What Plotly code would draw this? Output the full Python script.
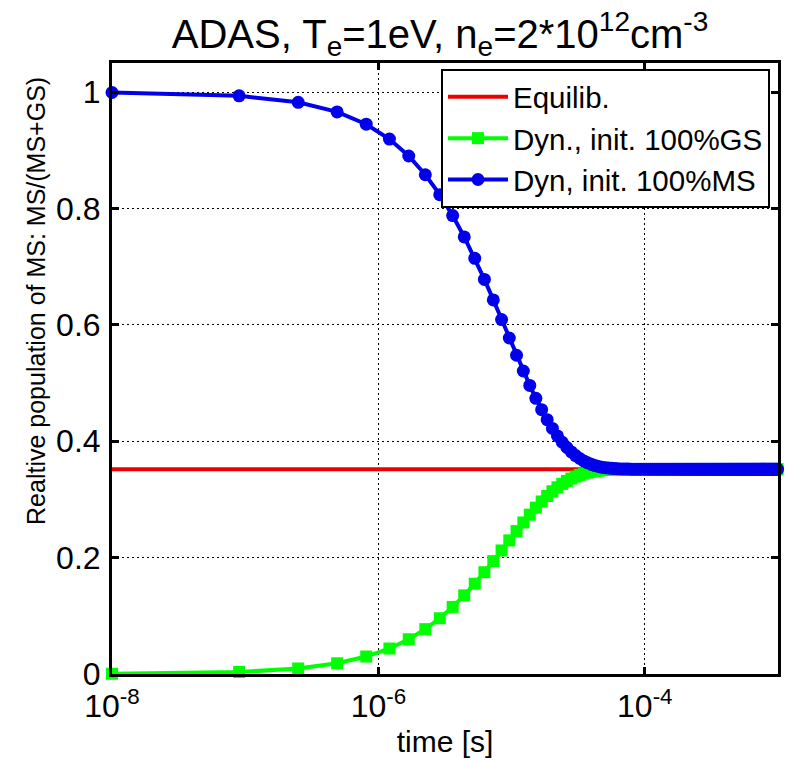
import plotly.graph_objects as go

# time in units of 1e-8 s
t_units = [1, 9, 25, 49, 81, 121, 169, 225, 289, 361, 441, 529, 625, 729, 841, 961,
           1089, 1225, 1369, 1521, 1681, 1849, 2025, 2209, 2401, 2601, 2809, 3025, 3249,
           3481, 3721, 3969, 4225, 4489, 4761, 5041, 5329, 5625, 5929, 6241, 6561,
           6889, 7225, 7569, 7921, 8281, 8649, 9025, 9409, 9801, 10201, 10609, 11025,
           11449, 11881, 12321, 12769, 13225, 13689, 14161, 14641, 15129, 15625, 16129,
           16641, 17161, 17689, 18225, 18769, 19321, 19881, 20449, 21025, 21609, 22201,
           22801, 23409, 24025, 24649, 25281, 25921, 26569, 27225, 27889, 28561, 29241,
           29929, 30625, 31329, 32041, 32761, 33489, 34225, 34969, 35721, 36481, 37249,
           38025, 38809, 39601, 40401, 41209, 42025, 42849, 43681, 44521, 45369, 46225,
           47089, 47961, 48841, 49729, 50625, 51529, 52441, 53361, 54289, 55225, 56169,
           57121, 58081, 59049, 60025, 61009, 62001, 63001, 64009, 65025, 66049, 67081,
           68121, 69169, 70225, 71289, 72361, 73441, 74529, 75625, 76729, 77841, 78961,
           80089, 81225, 82369, 83521, 84681, 85849, 87025, 88209, 89401, 90601, 91809,
           93025, 94249, 95481, 96721, 97969, 99225]

ms_init_ms = [0.9993, 0.9936, 0.9824, 0.9660, 0.9448, 0.9193, 0.8902, 0.8580, 0.8237, 0.7878,
              0.7511, 0.7144, 0.6781, 0.6429, 0.6091, 0.5774, 0.5478, 0.5207, 0.4960, 0.4738,
              0.4542, 0.4370, 0.4220, 0.4092, 0.3983, 0.3892, 0.3816, 0.3753, 0.3703, 0.3661,
              0.3629, 0.3603, 0.3582, 0.3567, 0.3554, 0.3545, 0.3539, 0.3534, 0.3530, 0.3527,
              0.3525, 0.3523, 0.3522, 0.3521, 0.352, 0.352, 0.352, 0.352, 0.352, 0.352,
              0.352, 0.352, 0.352, 0.352, 0.352, 0.352, 0.352, 0.352, 0.352, 0.352,
              0.352, 0.352, 0.352, 0.352, 0.352, 0.352, 0.352, 0.352, 0.352, 0.352,
              0.352, 0.352, 0.352, 0.352, 0.352, 0.352, 0.352, 0.352, 0.352, 0.352,
              0.352, 0.352, 0.352, 0.352, 0.352, 0.352, 0.352, 0.352, 0.352, 0.352,
              0.352, 0.352, 0.352, 0.352, 0.352, 0.352, 0.352, 0.352, 0.352, 0.352,
              0.352, 0.352, 0.352, 0.352, 0.352, 0.352, 0.352, 0.352, 0.352, 0.352,
              0.352, 0.352, 0.352, 0.352, 0.352, 0.352, 0.352, 0.352, 0.352, 0.352,
              0.352, 0.352, 0.352, 0.352, 0.352, 0.352, 0.352, 0.352, 0.352, 0.352,
              0.352, 0.352, 0.352, 0.352, 0.352, 0.352, 0.352, 0.352, 0.352, 0.352,
              0.352, 0.352, 0.352, 0.352, 0.352, 0.352, 0.352, 0.352, 0.352, 0.352,
              0.352, 0.352, 0.352, 0.352, 0.352, 0.352, 0.352, 0.352]

ms_init_gs = [0.0004, 0.0034, 0.0095, 0.0184, 0.0300, 0.0438, 0.0597, 0.0771, 0.0958, 0.1153,
              0.1352, 0.1552, 0.1749, 0.1940, 0.2123, 0.2296, 0.2456, 0.2604, 0.2738, 0.2858,
              0.2965, 0.3059, 0.3140, 0.3209, 0.3268, 0.3318, 0.3359, 0.3393, 0.3421, 0.3443,
              0.3461, 0.3475, 0.3486, 0.3495, 0.3501, 0.3506, 0.3510, 0.3513, 0.3515, 0.3516,
              0.3518, 0.3519, 0.3519, 0.352, 0.352, 0.352, 0.352, 0.352, 0.352, 0.352,
              0.352, 0.352, 0.352, 0.352, 0.352, 0.352, 0.352, 0.352, 0.352, 0.352,
              0.352, 0.352, 0.352, 0.352, 0.352, 0.352, 0.352, 0.352, 0.352, 0.352,
              0.352, 0.352, 0.352, 0.352, 0.352, 0.352, 0.352, 0.352, 0.352, 0.352,
              0.352, 0.352, 0.352, 0.352, 0.352, 0.352, 0.352, 0.352, 0.352, 0.352,
              0.352, 0.352, 0.352, 0.352, 0.352, 0.352, 0.352, 0.352, 0.352, 0.352,
              0.352, 0.352, 0.352, 0.352, 0.352, 0.352, 0.352, 0.352, 0.352, 0.352,
              0.352, 0.352, 0.352, 0.352, 0.352, 0.352, 0.352, 0.352, 0.352, 0.352,
              0.352, 0.352, 0.352, 0.352, 0.352, 0.352, 0.352, 0.352, 0.352, 0.352,
              0.352, 0.352, 0.352, 0.352, 0.352, 0.352, 0.352, 0.352, 0.352, 0.352,
              0.352, 0.352, 0.352, 0.352, 0.352, 0.352, 0.352, 0.352, 0.352, 0.352,
              0.352, 0.352, 0.352, 0.352, 0.352, 0.352, 0.352, 0.352]

equilib_t = [1e-8, 1e-3]
equilib_val = [0.352, 0.352]

x_tickvals = [1e-8, 1e-6, 1e-4]
x_ticktext = ["10<sup>-8</sup>", "10<sup>-6</sup>", "10<sup>-4</sup>"]
y_tickvals = [0, 0.2, 0.4, 0.6, 0.8, 1.0]
y_ticktext = ["0", "0.2", "0.4", "0.6", "0.8", "1"]

t_sec = [u * 1e-8 for u in t_units]

FONT = "Liberation Sans, Arial, sans-serif"

fig = go.Figure()
fig.add_trace(go.Scatter(x=equilib_t, y=equilib_val, mode="lines", name="Equilib.",
                         line=dict(color="rgb(235,0,0)", width=4), cliponaxis=False))
fig.add_trace(go.Scatter(x=t_sec, y=ms_init_gs, mode="lines+markers",
                         name="Dyn., init. 100%GS",
                         line=dict(color="rgb(0,255,0)", width=4),
                         marker=dict(symbol="square", size=12, color="rgb(0,255,0)"),
                         cliponaxis=False))
fig.add_trace(go.Scatter(x=t_sec, y=ms_init_ms, mode="lines+markers",
                         name="Dyn, init. 100%MS",
                         line=dict(color="rgb(0,0,235)", width=4),
                         marker=dict(symbol="circle", size=13, color="rgb(0,0,235)"),
                         cliponaxis=False))

axis_common = dict(showgrid=True, gridcolor="black", gridwidth=1.2, griddash="2px,3px",
                   ticks="inside", ticklen=7, tickwidth=2.5, tickcolor="black",
                   showline=True, linecolor="black", linewidth=3, mirror="allticks",
                   zeroline=False, tickfont=dict(size=32, color="black", family=FONT))

fig.update_xaxes(type="log", range=[-8, -3], tickvals=x_tickvals, ticktext=x_ticktext,
                 ticklabelstandoff=2,
                 title=dict(text="time [s]", font=dict(size=30, color="black", family=FONT),
                            standoff=8),
                 **axis_common)
fig.update_yaxes(range=[0, 1.05], tickvals=y_tickvals, ticktext=y_ticktext,
                 ticklabelstandoff=2,
                 **axis_common)

fig.update_layout(
    width=789, height=761,
    margin=dict(l=112, r=8, t=63, b=86),
    paper_bgcolor="white", plot_bgcolor="white",
    font=dict(family=FONT, color="black"),
    title=dict(text="ADAS, T<sub>e</sub>=1eV, n<sub>e</sub>=2*10<sup>12</sup>cm<sup>-3</sup>",
               font=dict(size=40, color="black", family=FONT),
               x=440 / 789, xanchor="center", xref="container",
               y=1 - 34 / 761, yanchor="middle", yref="container"),
    legend=dict(x=0.988, y=0.99, xanchor="right", yanchor="top",
                bgcolor="white", bordercolor="black", borderwidth=2,
                font=dict(size=29.5, color="black", family=FONT),
                tracegroupgap=0, itemwidth=60),
    showlegend=True,
    annotations=[dict(text="Realtive population of MS: MS/(MS+GS)",
                      xref="paper", yref="paper",
                      x=-(112 - 35) / 669, y=(675 - 301) / 612,
                      xanchor="center", yanchor="middle", textangle=-90,
                      showarrow=False,
                      font=dict(size=25, color="black", family=FONT))],
)

fig.write_html("out.html")
